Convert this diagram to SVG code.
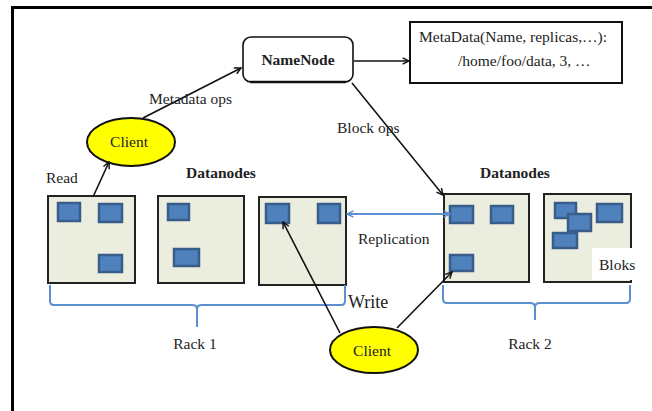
<svg xmlns="http://www.w3.org/2000/svg" width="652" height="411" viewBox="0 0 652 411">
  <style>
    .txt { font-family: "Liberation Serif", "Times New Roman", serif; font-size: 15.5px; fill: #222; }
    .bold { font-weight: bold; }
    .rack { fill: #EBEEDF; stroke: #222; stroke-width: 2; }
    .blk { fill: #4F81BD; stroke: #385D8A; stroke-width: 2.5; }
    .client { fill: #FFFF00; stroke: #111; stroke-width: 2; }
    .conn { fill: none; stroke: #111; stroke-width: 1.6; }
    .blue { fill: none; stroke: #5B8FD0; stroke-width: 2; }
    .brace { fill: none; stroke: #5B8FD0; stroke-width: 2; }
  </style>
  <defs>
    <marker id="arr" viewBox="0 0 10 10" refX="9" refY="5" markerWidth="8" markerHeight="8" orient="auto-start-reverse" markerUnits="userSpaceOnUse">
      <path d="M1,1 L9,5 L1,9" fill="none" stroke="#111" stroke-width="1.8"/>
    </marker>
    <marker id="arrb" viewBox="0 0 10 10" refX="9" refY="5" markerWidth="8" markerHeight="8" orient="auto-start-reverse" markerUnits="userSpaceOnUse">
      <path d="M1,1 L9,5 L1,9" fill="none" stroke="#5B8FD0" stroke-width="1.8"/>
    </marker>
  </defs>

  <rect width="652" height="411" fill="#fff"/>
  <!-- frame -->
  <line x1="11" y1="7.5" x2="652" y2="7.5" stroke="#000" stroke-width="3"/>
  <line x1="12.5" y1="6" x2="12.5" y2="411" stroke="#000" stroke-width="3"/>

  <!-- NameNode -->
  <g id="namenode">
    <rect x="243" y="37" width="110" height="45" rx="8" fill="#fff" stroke="#111" stroke-width="1.6"/>
    <line x1="250" y1="82" x2="346" y2="82" stroke="#111" stroke-width="2.5"/>
    <text class="txt bold" x="298" y="65" text-anchor="middle">NameNode</text>
  </g>

  <!-- Metadata table -->
  <g id="metadata">
    <rect x="410" y="22" width="212" height="61" fill="#fff" stroke="#111" stroke-width="2"/>
    <text class="txt" x="419" y="42">MetaData(Name, replicas,…):</text>
    <text class="txt" x="458" y="66">/home/foo/data, 3, …</text>
  </g>

  <!-- Clients -->
  <g id="client-read">
    <ellipse class="client" cx="131" cy="142" rx="44" ry="24"/>
    <text class="txt" x="129" y="147" text-anchor="middle">Client</text>
  </g>
  <g id="client-write">
    <ellipse class="client" cx="374" cy="350" rx="44" ry="23"/>
    <text class="txt" x="372" y="356" text-anchor="middle">Client</text>
  </g>

  <!-- Rack 1 datanodes -->
  <text class="txt bold" x="221" y="178" text-anchor="middle">Datanodes</text>
  <g id="dn1">
    <rect class="rack" x="48" y="196" width="87" height="87"/>
    <rect class="blk" x="58" y="203" width="22" height="18"/>
    <rect class="blk" x="99" y="204" width="23" height="18"/>
    <rect class="blk" x="99" y="255" width="23" height="17"/>
  </g>
  <g id="dn2">
    <rect class="rack" x="158" y="196" width="86" height="87"/>
    <rect class="blk" x="168" y="204" width="21" height="16"/>
    <rect class="blk" x="174" y="249" width="25" height="17"/>
  </g>
  <g id="dn3">
    <rect class="rack" x="259" y="197" width="87" height="88"/>
    <rect class="blk" x="266" y="204" width="23" height="19"/>
    <rect class="blk" x="318" y="204" width="22" height="19"/>
  </g>

  <!-- Rack 2 datanodes -->
  <text class="txt bold" x="515" y="178" text-anchor="middle">Datanodes</text>
  <g id="dn4">
    <rect class="rack" x="444" y="194" width="85" height="88"/>
    <rect class="blk" x="450" y="206" width="23" height="17"/>
    <rect class="blk" x="491" y="206" width="22" height="17"/>
    <rect class="blk" x="450" y="255" width="23" height="16"/>
  </g>
  <g id="dn5">
    <rect class="rack" x="544" y="194" width="87" height="88"/>
    <rect class="blk" x="555" y="203" width="21" height="15"/>
    <rect class="blk" x="597" y="204" width="25" height="18"/>
    <rect class="blk" x="568" y="214" width="23" height="17"/>
    <rect class="blk" x="553" y="233" width="24" height="15"/>
    <rect x="592" y="248" width="47" height="32" fill="#fff"/>
    <text class="txt" x="599" y="270">Bloks</text>
  </g>

  <!-- Rack braces -->
  <g id="rack1">
    <path class="brace" d="M50,285 V301 Q50,305 54,305 H192 Q197,305 197,309 V327 M197,309 Q197,305 202,305 H341 Q345,305 345,301 V285"/>
    <text class="txt" x="195" y="349" text-anchor="middle">Rack 1</text>
  </g>
  <g id="rack2">
    <path class="brace" d="M443,285 V299 Q443,303 447,303 H530 Q535,303 535,307 V320 M535,307 Q535,303 540,303 H626 Q630,303 630,299 V285"/>
    <text class="txt" x="530" y="349" text-anchor="middle">Rack 2</text>
  </g>

  <!-- Connectors -->
  <g id="connectors">
    <line class="conn" x1="143" y1="118" x2="241" y2="68" marker-end="url(#arr)"/>
    <line class="conn" x1="93" y1="197" x2="109" y2="162" marker-end="url(#arr)"/>
    <line class="conn" x1="354" y1="61" x2="409" y2="61" marker-end="url(#arr)"/>
    <line class="conn" x1="352" y1="83" x2="443" y2="195" marker-end="url(#arr)"/>
    <line class="blue" x1="347" y1="214" x2="450" y2="214" marker-start="url(#arrb)" marker-end="url(#arrb)"/>
    <line class="conn" x1="340" y1="333" x2="283" y2="222" marker-end="url(#arr)"/>
    <line class="conn" x1="397" y1="328" x2="452" y2="272" marker-end="url(#arr)"/>
  </g>

  <!-- Connector labels -->
  <text class="txt" x="149" y="104">Metadata ops</text>
  <text class="txt" x="46" y="183">Read</text>
  <text class="txt" x="337" y="133">Block   ops</text>
  <text class="txt" x="358" y="244">Replication</text>
  <text class="txt" x="348" y="308" style="font-size:18px">Write</text>
</svg>
